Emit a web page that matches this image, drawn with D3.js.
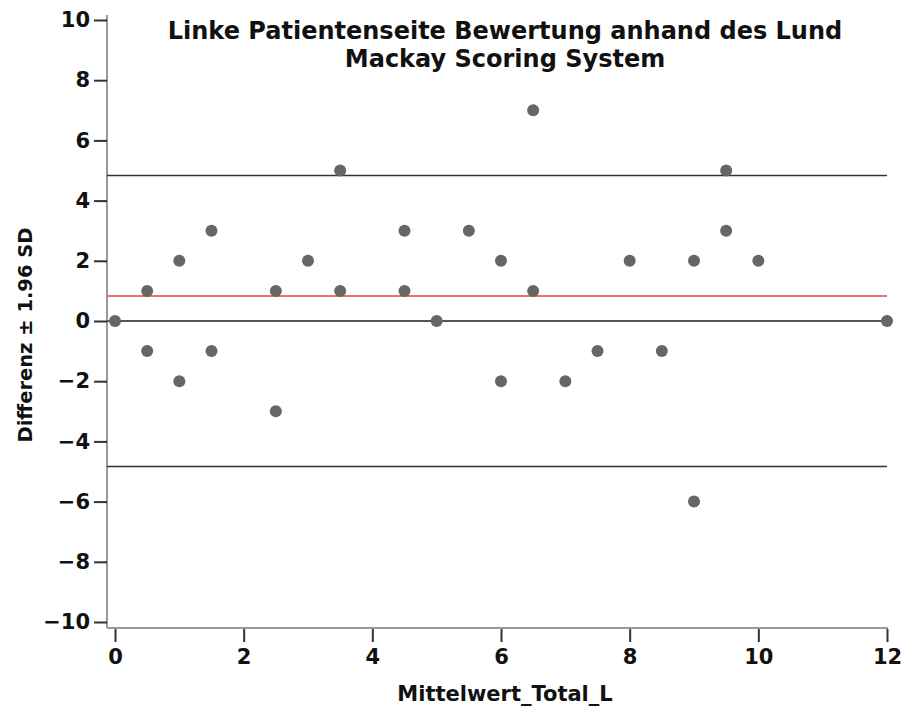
<!DOCTYPE html>
<html>
<head>
<meta charset="utf-8">
<script src="https://cdn.jsdelivr.net/npm/d3@7"></script>
<style>
  body { margin: 0; background: #fff; }
  text { font-family: "DejaVu Sans", sans-serif; font-weight: bold; fill: #111; }
</style>
</head>
<body>
<div id="chart"></div>
<script>
var width = 905,
    height = 706;

// Mittelwert (x) and Differenz (y) per patient
var means = [0, 0.5, 0.5, 1, 1, 1.5, 1.5, 2.5, 2.5, 3, 3.5, 3.5, 4.5, 4.5, 5, 5.5,
             6, 6, 6.5, 6.5, 7, 7.5, 8, 8.5, 9, 9, 9.5, 9.5, 10, 12];
var diffs = [0, 1, -1, 2, -2, 3, -1, 1, -3, 2, 5, 1, 3, 1, 0, 3,
             2, -2, 7, 1, -2, -1, 2, -1, 2, -6, 5, 3, 2, 0];

var meanDiff = 0.83;
var limits = [4.83, -4.83];
var xTicks = [0, 2, 4, 6, 8, 10, 12];
var yTicks = [-10, -8, -6, -4, -2, 0, 2, 4, 6, 8, 10];
var titleLines = ["Linke Patientenseite Bewertung anhand des Lund", "Mackay Scoring System"];

var svg = d3.select("#chart")
    .append("svg")
    .attr("width", width)
    .attr("height", height);

var x = d3.scaleLinear().domain([0, 12]).range([115, 887]);
var y = d3.scaleLinear().domain([-10, 10]).range([622, 20]);

var axisX = 107, axisY = 628;

// axis lines
svg.append("line")
    .attr("x1", axisX).attr("x2", axisX)
    .attr("y1", 15).attr("y2", axisY)
    .attr("stroke", "#999").attr("stroke-width", 2);
svg.append("line")
    .attr("x1", axisX).attr("x2", x(12) + 1)
    .attr("y1", axisY).attr("y2", axisY)
    .attr("stroke", "#999").attr("stroke-width", 2);

var yAxis = svg.append("g")
    .attr("transform", "translate(" + axisX + ",0)")
    .call(d3.axisLeft(y).tickValues(yTicks).tickSize(13).tickPadding(4)
      .tickFormat(function(d) { return d < 0 ? "\u2212" + Math.abs(d) : d; }));
yAxis.select(".domain").remove();

var xAxis = svg.append("g")
    .attr("transform", "translate(0," + (axisY + 1) + ")")
    .call(d3.axisBottom(x).tickValues(xTicks).tickSize(13).tickPadding(7));
xAxis.select(".domain").remove();

svg.selectAll(".tick line").attr("stroke", "#333").attr("stroke-width", 2);
svg.selectAll(".tick text")
    .style("font-size", "21px")
    .style("font-family", "DejaVu Sans, sans-serif")
    .style("font-weight", "bold")
    .attr("fill", "#111");

// reference lines
svg.append("line")
    .attr("x1", axisX).attr("x2", x(12))
    .attr("y1", y(0)).attr("y2", y(0))
    .attr("stroke", "#555").attr("stroke-width", 2);

svg.selectAll(".limit")
    .data(limits)
    .enter().append("line")
    .attr("class", "limit")
    .attr("x1", axisX).attr("x2", x(12))
    .attr("y1", function(d) { return y(d); })
    .attr("y2", function(d) { return y(d); })
    .attr("stroke", "#333").attr("stroke-width", 1.5);

svg.append("line")
    .attr("x1", axisX).attr("x2", x(12))
    .attr("y1", y(meanDiff)).attr("y2", y(meanDiff))
    .attr("stroke", "#f04040").attr("stroke-width", 1.5);

// points
svg.selectAll(".dot")
    .data(means)
    .enter().append("circle")
    .attr("class", "dot")
    .attr("cx", function(d) { return x(d); })
    .attr("cy", function(d, i) { return y(diffs[i]); })
    .attr("r", 6)
    .attr("fill", "#666");

// title, one text per line
svg.selectAll(".title")
    .data(titleLines)
    .enter().append("text")
    .attr("class", "title")
    .attr("text-anchor", "middle")
    .attr("x", 505)
    .attr("y", function(d, i) { return 39 + i * 28; })
    .style("font-size", "24px")
    .text(function(d) { return d; });

// axis titles
svg.append("text")
    .attr("text-anchor", "middle")
    .attr("x", 505)
    .attr("y", 701)
    .style("font-size", "21px")
    .text("Mittelwert_Total_L");

svg.append("text")
    .attr("text-anchor", "middle")
    .attr("transform", "translate(32,335) rotate(-90)")
    .style("font-size", "19.5px")
    .text("Differenz \u00b1 1.96 SD");
</script>
</body>
</html>
